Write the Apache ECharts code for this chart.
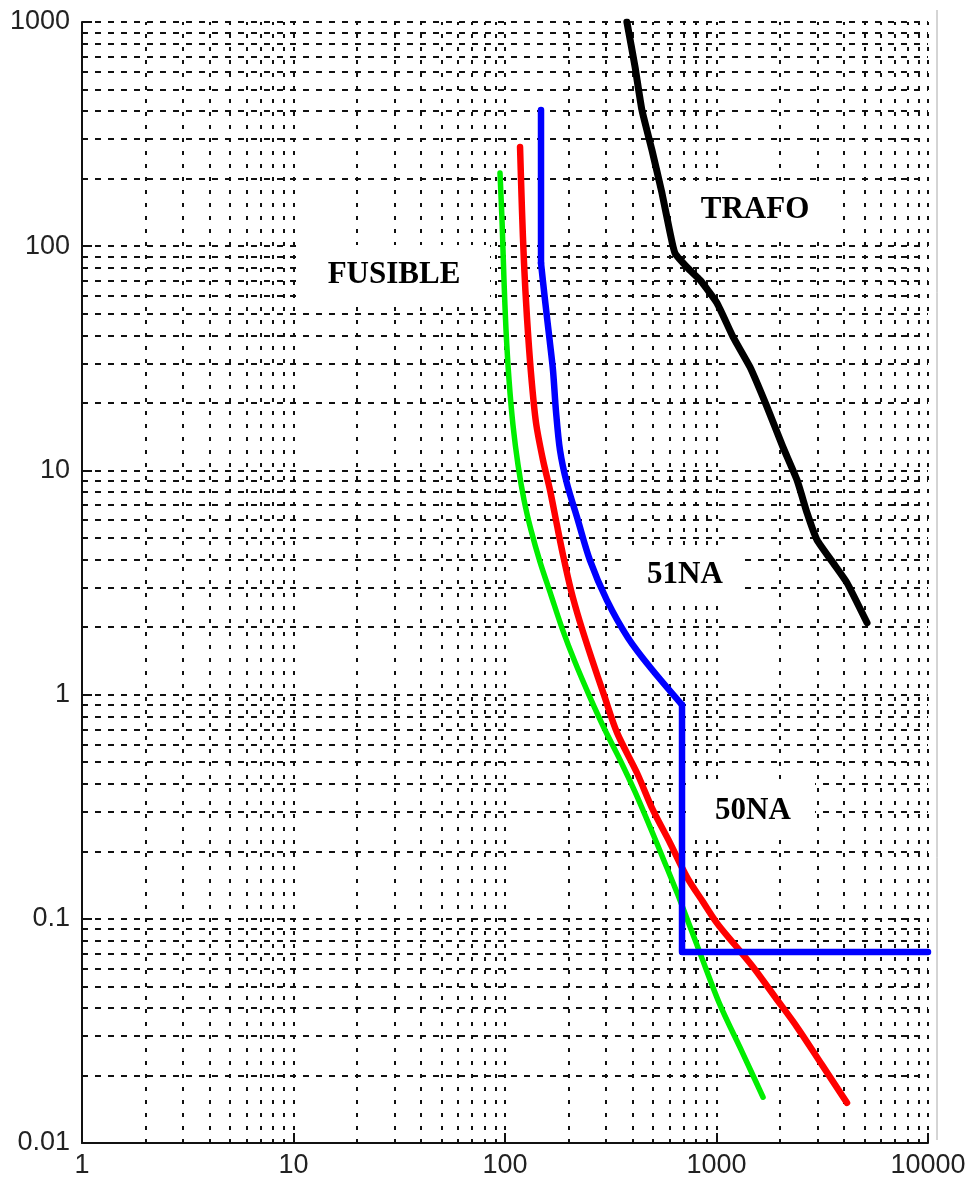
<!DOCTYPE html>
<html>
<head>
<meta charset="utf-8">
<script src="https://cdn.jsdelivr.net/npm/echarts@6/dist/echarts.min.js"></script>
<style>
html,body{margin:0;padding:0;background:#fff;}
#chart{width:976px;height:1183px;}
</style>
</head>
<body>
<div id="chart"></div>
<script>
// ---- data (current in A, time in s) ----
var xTickLabels = ['1', '10', '100', '1000', '10000'];
var yTickLabels = ['0.01', '0.1', '1', '10', '100', '1000'];
var xDecades = [1, 10, 100, 1000];
var yDecades = [0.01, 0.1, 1, 10, 100];
var gridMultipliers = [1, 2, 3, 4, 5, 6, 7, 8, 9];

var trafo = [[377,1000],[412,630],[444,405],[495,269],[552,173],[603,115],[637,93],[750,78],[836,70.6],[1005,55.8],[1197,39.4],[1440,28.9],[1733,19.2],[2062,12.7],[2403,9.06],[2680,6.46],[2986,4.9],[3556,3.87],[4140,3.15],[5150,2.09]];
var relay51_50 = [[148,405],[148,84.1],[154.6,57.5],[161.5,40.2],[168.6,28.0],[174,18.6],[182,12.3],[196,8.79],[221,6.01],[252,3.98],[303,2.64],[382,1.79],[490,1.31],[687,0.90],[687,0.0711],[10000,0.0711]];
var fuseRed = [[117.8,277],[120.3,145],[123,84.1],[127,48.3],[132.7,27.2],[140.2,16.3],[151.3,11.1],[163.2,8.18],[176,5.71],[188,4.20],[205,2.93],[226,2.11],[258,1.43],[294,0.995],[339,0.675],[421,0.447],[501,0.305],[603,0.218],[726,0.153],[863,0.119],[1005,0.0957],[1223,0.0764],[1489,0.061],[1892,0.0448],[2403,0.0329],[3155,0.0223],[4140,0.0151]];
var fuseGreen = [[94.7,212],[96.8,131],[98.9,70.7],[101.1,42.3],[104.5,25.3],[109.1,15.9],[115.2,10.6],[123,7.38],[132.7,5.42],[146.5,3.90],[165,2.78],[186,1.98],[214,1.40],[252,0.975],[297,0.695],[350,0.511],[412,0.368],[485,0.257],[571,0.177],[672,0.121],[836,0.0703],[1039,0.0413],[1321,0.0255],[1660,0.016]];

var annotations = [
  {text: 'TRAFO',   box: [677, 182, 166, 51], c: [755, 210]},
  {text: 'FUSIBLE', box: [303, 245, 187, 62], c: [394, 275]},
  {text: '51NA',    box: [627, 547, 116, 56], c: [685, 575]},
  {text: '50NA',    box: [693, 782, 122, 58], c: [753, 811]}
];

// ---- build grid line values ----
var xGridVals = [];
xDecades.forEach(function(d){ gridMultipliers.forEach(function(m){ xGridVals.push(d*m); }); });
xGridVals.push(10000);
var yGridVals = [];
yDecades.forEach(function(d){ gridMultipliers.forEach(function(m){ yGridVals.push(+(d*m).toPrecision(6)); }); });
yGridVals.push(1000);

var chart = echarts.init(document.getElementById('chart'), null, {renderer: 'canvas'});

function curve(name, data, color, width, smooth) {
  return {
    name: name, type: 'line', data: data, showSymbol: false, symbol: 'none',
    smooth: smooth || false,
    lineStyle: {color: color, width: width, cap: 'round', join: 'round'},
    z: 5, silent: true, animation: false
  };
}

var labelFont = '"Liberation Sans", Arial, sans-serif';

var graphics = [];
annotations.forEach(function(a){
  graphics.push({type: 'rect', z: 50, silent: true,
    shape: {x: a.box[0], y: a.box[1], width: a.box[2], height: a.box[3]},
    style: {fill: '#ffffff'}});
  graphics.push({type: 'text', z: 51, silent: true, x: a.c[0], y: a.c[1],
    style: {text: a.text, fill: '#000', font: 'bold 31px "Liberation Serif", "Times New Roman", serif',
      align: 'center', verticalAlign: 'middle', textAlign: 'center', textVerticalAlign: 'middle'}});
});
graphics.push({type: 'line', z: 50, silent: true,
  shape: {x1: 937, y1: 10, x2: 937, y2: 1140},
  style: {stroke: '#aaaaaa', lineWidth: 1}});

var blueTop = relay51_50.slice(0, 2);
var blueCurve = relay51_50.slice(1, 14);
var blueBottom = relay51_50.slice(13);

var option = {
  animation: false,
  backgroundColor: '#ffffff',
  grid: {left: 82, right: 48, top: 22, bottom: 40, containLabel: false},
  xAxis: {
    type: 'log', logBase: 10, min: 1, max: 10000,
    axisLine: {show: true, onZero: false, lineStyle: {color: '#111', width: 2}},
    axisTick: {show: true, inside: true, length: 10, lineStyle: {color: '#111', width: 2}},
    splitLine: {show: false},
    minorTick: {show: false},
    axisLabel: {
      color: '#222', fontSize: 27, fontFamily: labelFont, margin: 9,
      formatter: function(v){ var i = Math.round(Math.log10(v)); return xTickLabels[i] || ''; }
    }
  },
  yAxis: {
    type: 'log', logBase: 10, min: 0.01, max: 1000,
    axisLine: {show: true, onZero: false, lineStyle: {color: '#111', width: 2}},
    axisTick: {show: true, inside: true, length: 10, lineStyle: {color: '#111', width: 2}},
    splitLine: {show: false},
    minorTick: {show: false},
    axisLabel: {
      color: '#222', fontSize: 27, fontFamily: labelFont, margin: 12,
      formatter: function(v){ var i = Math.round(Math.log10(v)) + 2; return yTickLabels[i] || ''; }
    }
  },
  graphic: graphics,
  series: [
    {
      name: 'gridX', type: 'line', data: [], silent: true, z: 1,
      markLine: {
        silent: true, symbol: ['none', 'none'], animation: false,
        label: {show: false},
        lineStyle: {color: '#111', width: 2, type: [4, 9]},
        data: xGridVals.map(function(v){ return {xAxis: v}; })
      }
    },
    {
      name: 'gridY', type: 'line', data: [], silent: true, z: 1,
      markLine: {
        silent: true, symbol: ['none', 'none'], animation: false,
        label: {show: false},
        lineStyle: {color: '#111', width: 2, type: [6, 7]},
        data: yGridVals.map(function(v){ return {yAxis: v}; })
      }
    },
    curve('TRAFO', trafo, '#000000', 7, 0.15),
    curve('FUSIBLE 2', fuseRed, '#ff0000', 6.5, 0.3),
    curve('FUSIBLE', fuseGreen, '#00ee00', 5.5, 0.3),
    curve('51NA / 50NA', blueTop, '#0000ff', 6.5, false),
    curve('51NA / 50NA', blueCurve, '#0000ff', 6.5, 0.3),
    curve('51NA / 50NA', blueBottom, '#0000ff', 6.5, false)
  ]
};
chart.setOption(option);
</script>
</body>
</html>
